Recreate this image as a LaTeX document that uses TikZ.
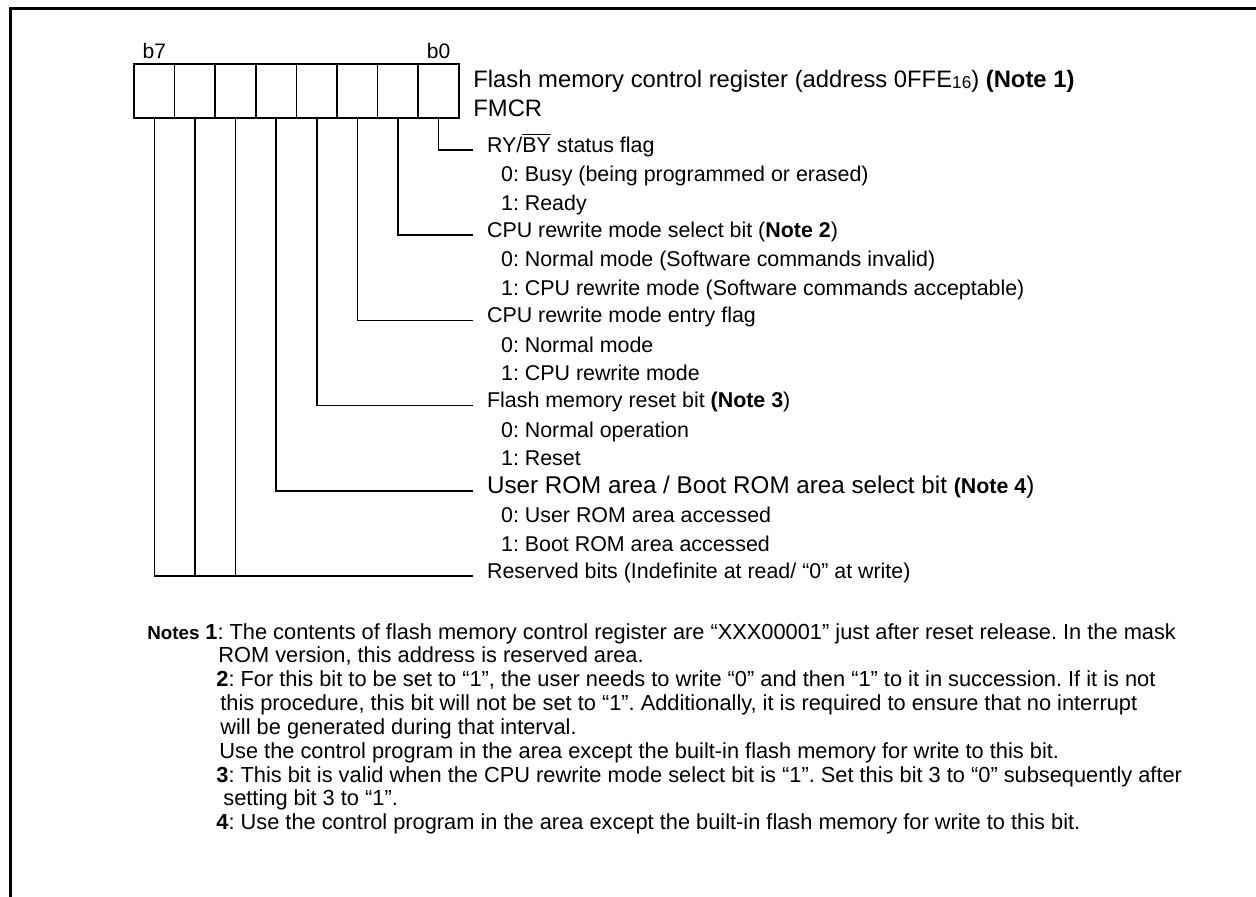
\documentclass[tikz,border=0pt]{standalone}
\usepackage{fontspec}
\setmainfont{Liberation Sans}
\usetikzlibrary{positioning}

\begin{document}
\frenchspacing
\begin{tikzpicture}[x=0.5pt, y=-0.5pt,
  cell/.style={rectangle, draw, line width=0.8pt, minimum width=20.3pt, minimum height=27pt, inner sep=0pt},
  bitnum/.style={font=\fontsize{10.5}{12}\selectfont, inner sep=0pt},
  title/.style={font=\fontsize{11.9}{14}\selectfont, anchor=base west, inner sep=0pt},
  field/.style={font=\fontsize{10.7}{12}\selectfont, anchor=west, inner xsep=7pt, inner ysep=0pt,
                text height=0.72em, text depth=5pt},
  opt/.style={font=\fontsize{10.7}{12}\selectfont, anchor=base west, inner sep=0pt},
  note/.style={font=\fontsize{10.9}{13}\selectfont, anchor=base west, inner sep=0pt},
  wire/.style={line width=0.8pt}
]
\useasboundingbox (0,0) rectangle (1256,897);

% Frame
\draw[line width=1.5pt] (10,897) -- (10,9) -- (1256,9);

% Register cells (b7 ... b0)
\node[cell] (bit7) at (154.3,91) {};
\node[cell] (bit6) at (194.9,91) {};
\node[cell] (bit5) at (235.5,91) {};
\node[cell] (bit4) at (276.1,91) {};
\node[cell] (bit3) at (316.7,91) {};
\node[cell] (bit2) at (357.3,91) {};
\node[cell] (bit1) at (397.9,91) {};
\node[cell] (bit0) at (438.5,91) {};
\node[bitnum, above=2.2pt of bit7] (b7) {b7};
\node[bitnum, above=2.2pt of bit0] (b0) {b0};

% Register name
\node[title] (name) at (473,87.3)
  {Flash memory control register (address 0FFE\raisebox{-0.5pt}{\fontsize{8.6}{9}\selectfont 16}) \textbf{(Note 1)}};
\node[title] (fmcr) at (473,117) {FMCR};

% Bit fields
\node[field] (f0) at (472.7,150) {RY/$\overline{\mbox{BY}}$ status flag};
\node[opt] (f0a) at (500.7,182) {0: Busy (being programmed or erased)};
\node[opt] (f0b) at (500.7,210.5) {1: Ready};

\node[field] (f1) at (472.7,235.2) {CPU rewrite mode select bit (\textbf{Note 2})};
\node[opt] (f1a) at (500.7,267) {0: Normal mode (Software commands invalid)};
\node[opt] (f1b) at (500.7,295.5) {1: CPU rewrite mode (Software commands acceptable)};

\node[field] (f2) at (472.7,320.4) {CPU rewrite mode entry flag};
\node[opt] (f2a) at (500.7,352.2) {0: Normal mode};
\node[opt] (f2b) at (500.7,380.7) {1: CPU rewrite mode};

\node[field] (f3) at (472.7,405.6) {Flash memory reset bit \textbf{(Note 3})};
\node[opt] (f3a) at (500.7,437.2) {0: Normal operation};
\node[opt] (f3b) at (500.7,465.8) {1: Reset};

\node[field, font=\fontsize{12.1}{14}\selectfont] (f4) at (472.7,490.8)
  {User ROM area / Boot ROM area select bit {\fontsize{10.7}{12}\selectfont\textbf{(Note 4}})};
\node[opt] (f4a) at (500.7,522.6) {0: User ROM area accessed};
\node[opt] (f4b) at (500.7,551.1) {1: Boot ROM area accessed};

\node[field] (f5) at (472.7,576) {Reserved bits (Indefinite at read/ “0” at write)};

% Leader lines
\draw[wire] (bit0.south) |- (f0.west);
\draw[wire] (bit1.south) |- (f1.west);
\draw[wire] (bit2.south) |- (f2.west);
\draw[wire] (bit3.south) |- (f3.west);
\draw[wire] (bit4.south) |- (f4.west);
\draw[wire] (bit7.south) |- (f5.west);
\draw[wire] (bit6.south) -- (bit6.south |- f5.west);
\draw[wire] (bit5.south) -- (bit5.south |- f5.west);

% Notes
\node[note, font=\fontsize{9.4}{12}\selectfont] (notes) at (147,639) {\textbf{Notes}};
\node[note] (n1) at (205,639) {\textbf{1}: The contents of flash memory control register are “XXX00001” just after reset release. In the mask};
\node[note] (n1b) at (218,662.85) {ROM version, this address is reserved area.};
\node[note] (n2) at (216,686.7) {\textbf{2}: For this bit to be set to “1”, the user needs to write “0” and then “1” to it in succession. If it is not};
\node[note] (n2b) at (220,710.55) {this procedure, this bit will not be set to “1”. Additionally, it is required to ensure that no interrupt};
\node[note] (n2c) at (220,734.4) {will be generated during that interval.};
\node[note] (n2d) at (219,758.25) {Use the control program in the area except the built-in flash memory for write to this bit.};
\node[note] (n3) at (216,782.1) {\textbf{3}: This bit is valid when the CPU rewrite mode select bit is “1”. Set this bit 3 to “0” subsequently after};
\node[note] (n3b) at (223,805.95) {setting bit 3 to “1”.};
\node[note] (n4) at (216,829.8) {\textbf{4}: Use the control program in the area except the built-in flash memory for write to this bit.};
\end{tikzpicture}
\end{document}
